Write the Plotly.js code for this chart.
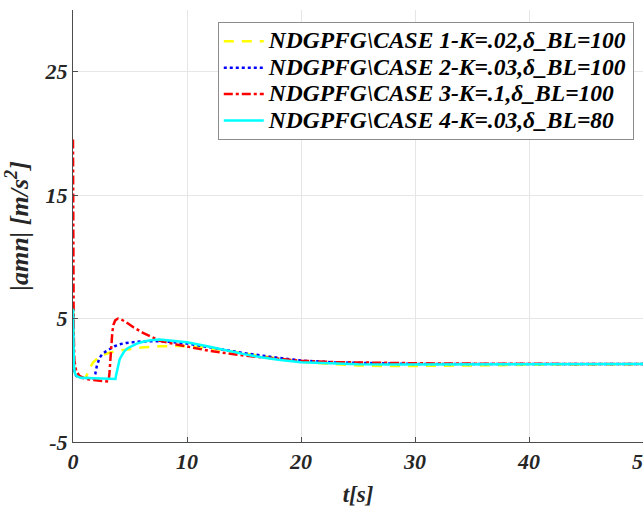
<!DOCTYPE html>
<html>
<head>
<meta charset="utf-8">
<script src="https://cdn.plot.ly/plotly-3.0.1.min.js"></script>
<style>html,body{margin:0;padding:0;background:#fff;}#chart{width:643px;height:510px;}</style>
</head>
<body>
<div id="chart"></div>
<script>
// Series names
var names = [
  'NDGPFG\\CASE 1-K=.02,δ_BL=100',
  'NDGPFG\\CASE 2-K=.03,δ_BL=100',
  'NDGPFG\\CASE 3-K=.1,δ_BL=100',
  'NDGPFG\\CASE 4-K=.03,δ_BL=80'
];

// Case 1 (yellow, dashed)
var t1 = [0, 0.03, 0.08, 0.15, 0.3, 0.66, 1.0, 1.1, 1.25, 1.45, 1.74, 2.2, 2.7, 3.2, 4.0, 4.7, 6.0, 7.6, 9.5, 11, 13, 15, 17, 19, 21, 23, 25, 28, 32, 36, 40, 45, 50];
var y1 = [5.8, 3.0, 1.2, 0.6, 0.35, 0.2, 0.18, 0.2, 0.5, 0.95, 1.42, 1.83, 2.08, 2.23, 2.4, 2.5, 2.65, 2.76, 2.78, 2.7, 2.48, 2.18, 1.9, 1.62, 1.42, 1.3, 1.2, 1.15, 1.16, 1.21, 1.26, 1.3, 1.31];

// Case 2 (blue, dotted)
var t2 = [0, 0.03, 0.08, 0.15, 0.3, 0.66, 1.2, 1.85, 1.95, 2.09, 2.33, 2.6, 2.92, 3.3, 3.65, 4.1, 4.67, 5.9, 7.3, 8.5, 10, 12, 15, 18, 20, 23, 26, 30, 40, 50];
var y2 = [5.8, 3.0, 1.2, 0.6, 0.35, 0.2, 0.17, 0.15, 0.5, 1.15, 1.83, 2.15, 2.36, 2.6, 2.76, 2.92, 3.03, 3.14, 3.17, 3.12, 2.97, 2.68, 2.2, 1.82, 1.6, 1.45, 1.37, 1.32, 1.31, 1.31];

// Case 3 (red, dash-dot)
var t3 = [0, 0.02, 0.06, 0.12, 0.18, 0.28, 0.57, 1.15, 2.0, 2.9, 3.12, 3.2, 3.28, 3.36, 3.45, 3.55, 3.7, 3.95, 4.2, 4.67, 5.3, 6.14, 7.0, 7.6, 9.07, 10.5, 12, 15, 18, 20, 23, 26, 30, 35, 40, 45, 50];
var y3 = [19.5, 12, 4.0, 1.6, 1.1, 0.75, 0.35, 0.1, 0.0, -0.08, -0.1, 0.6, 1.8, 3.0, 3.9, 4.5, 4.85, 5.0, 4.95, 4.7, 4.3, 3.85, 3.45, 3.2, 2.9, 2.62, 2.38, 2.0, 1.72, 1.58, 1.47, 1.42, 1.38, 1.35, 1.33, 1.32, 1.31];

// Case 4 (cyan, solid)
var t4 = [0, 0.03, 0.08, 0.15, 0.3, 0.66, 1.5, 2.5, 3.5, 3.72, 3.8, 3.87, 3.94, 4.09, 4.3, 4.52, 4.8, 5.1, 5.6, 6.14, 6.8, 7.6, 8.5, 10, 12, 13.5, 15, 16.5, 18, 20, 22, 25, 28, 32, 40, 50];
var y4 = [5.8, 3.0, 1.2, 0.6, 0.35, 0.2, 0.17, 0.13, 0.1, 0.1, 0.5, 0.85, 1.15, 1.69, 2.05, 2.36, 2.6, 2.76, 2.97, 3.12, 3.24, 3.3, 3.22, 3.08, 2.72, 2.4, 2.12, 1.86, 1.66, 1.47, 1.38, 1.3, 1.28, 1.28, 1.3, 1.31];

var xTicks = [0, 10, 20, 30, 40, 50];
var yTicks = [-5, 5, 15, 25];

var FAM = 'Liberation Serif';
function f(size, color) {
  return {family: FAM, size: size, weight: 'bold', style: 'italic', color: color || '#262626'};
}
function legName(s) { return '<span style="font-size:23.5px">' + s + '</span>'; }

var traces = [
  {x: t1, y: y1, name: legName(names[0]), mode: 'lines', line: {color: '#ffff00', width: 2.5, dash: '10px,8px'}},
  {x: t2, y: y2, name: legName(names[1]), mode: 'lines', line: {color: '#0000ff', width: 2.5, dash: 'dot'}},
  {x: t3, y: y3, name: legName(names[2]), mode: 'lines', line: {color: '#ff0000', width: 2.5, dash: 'dashdot'}},
  {x: t4, y: y4, name: legName(names[3]), mode: 'lines', line: {color: '#00ffff', width: 2.5}}
];

var layout = {
  width: 643, height: 510,
  margin: {l: 73, r: 0, t: 10, b: 68, pad: 0},
  paper_bgcolor: '#ffffff', plot_bgcolor: '#ffffff',
  font: f(20),
  showlegend: true,
  xaxis: {
    range: [0, 50], tickvals: xTicks, ticktext: xTicks.map(String),
    showgrid: true, gridcolor: '#e6e6e6', gridwidth: 1,
    showline: true, linecolor: '#4d4d4d', linewidth: 1,
    ticks: 'inside', ticklen: 5, tickcolor: '#4d4d4d',
    zeroline: false, ticklabeloverflow: 'allow',
    tickfont: f(22),
    title: {text: 't[s]', font: f(23), standoff: 12}
  },
  yaxis: {
    range: [-5, 30], tickvals: yTicks, ticktext: yTicks.map(String),
    showgrid: true, gridcolor: '#e6e6e6', gridwidth: 1,
    showline: true, linecolor: '#4d4d4d', linewidth: 1,
    ticks: 'inside', ticklen: 5, tickcolor: '#4d4d4d',
    zeroline: false,
    tickfont: f(22),
    title: {text: '|amn| [m/s<sup>2</sup>]', font: f(26), standoff: 8}
  },
  legend: {
    x: 0.254, y: 0.972, xanchor: 'left', yanchor: 'top',
    bgcolor: '#ffffff', bordercolor: '#8c8c8c', borderwidth: 1,
    font: f(18, '#000000'),
    itemwidth: 40,
    tracegroupgap: 0
  }
};

Plotly.newPlot('chart', traces, layout, {displayModeBar: false, staticPlot: true});
</script>
</body>
</html>
